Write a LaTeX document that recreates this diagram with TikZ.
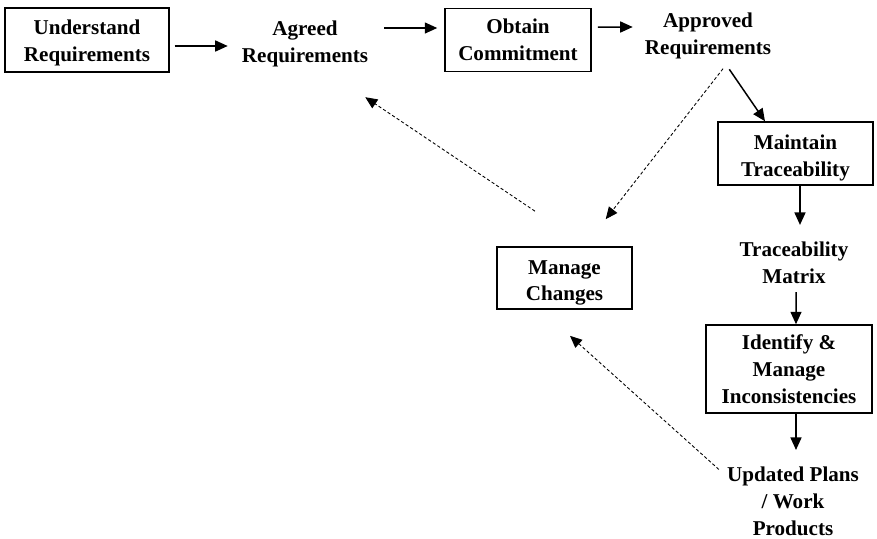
\documentclass[tikz,border=0pt]{standalone}
\usepackage{fontspec}
\setmainfont{Liberation Serif}
\usetikzlibrary{positioning, arrows.meta}
\tikzset{box/.style={draw=black,line width=0.85pt,align=center,inner sep=2pt,font=\bfseries\fontsize{12}{15.3}\selectfont}}
\tikzset{lbl/.style={align=center,font=\bfseries\fontsize{12}{15.3}\selectfont}}
\tikzset{flow/.style={-{Triangle[length=0.25cm,width=0.22cm]},line width=0.85pt}}
\tikzset{back/.style={-{Triangle[length=0.24cm,width=0.21cm]},line width=0.5pt,dash pattern=on 1.8pt off 1.3pt}}

\begin{document}
\begin{tikzpicture}
  \useasboundingbox (0,0) rectangle (17.54,-10.76);

  % top row
  \node[box,minimum width=3.28cm,minimum height=1.28cm,text height=0.95cm] (und) at (1.74,-0.80) {Understand\\Requirements};
  \node[lbl] (agr) at (6.10,-0.87) {Agreed\\Requirements};
  \node[box,minimum width=2.92cm,minimum height=1.26cm] (obt) at (10.36,-0.80) {Obtain\\Commitment};
  \node[lbl] (apr) at (14.16,-0.72) {Approved\\Requirements};

  % right column
  \node[box,minimum width=3.10cm,minimum height=1.26cm,text height=1.01cm] (mtr) at (15.91,-3.07) {Maintain\\Traceability};
  \node[lbl] (tmx) at (15.88,-5.26) {Traceability\\Matrix};
  \node[box,minimum width=3.32cm,minimum height=1.76cm] (idm) at (15.78,-7.38) {Identify \&\\Manage\\Inconsistencies};
  \node[lbl] (upd) at (15.86,-10.03) {Updated Plans\\/ Work\\Products};

  \node[box,minimum width=2.70cm,minimum height=1.24cm,text height=1.01cm] (mch) at (11.29,-5.56) {Manage\\Changes};

  % main flow
  \draw[flow,shorten <=0.1cm,shorten >=0.16cm] ([yshift=-0.12cm]und.east) -- ([yshift=-0.05cm]agr.west);
  \draw[flow,shorten <=0.2cm,shorten >=0.14cm] ([yshift=0.31cm]agr.east) -- ([yshift=0.24cm]obt.west);
  \draw[flow,shorten <=0.12cm,shorten >=0.12cm] ([yshift=0.26cm]obt.east) -- ([yshift=0.18cm]apr.west);
  \draw[flow,shorten <=0.1cm] ([xshift=0.37cm]apr.south) -- ([xshift=-0.61cm]mtr.north);
  \draw[flow,shorten >=0.22cm] ([xshift=0.09cm]mtr.south) -- ([xshift=0.12cm]tmx.north);
  \draw[flow,shorten <=0.04cm] ([xshift=0.04cm]tmx.south) -- ([xshift=0.14cm]idm.north);
  \draw[flow,shorten >=0.22cm] ([xshift=0.14cm]idm.south) -- ([xshift=0.06cm]upd.north);

  % change requests
  \draw[back] ([xshift=-0.59cm,yshift=0.70cm]mch.north) -- ([xshift=-0.18cm,yshift=-0.49cm]agr.south east);
  \draw[back] ([xshift=0.30cm,yshift=-0.07cm]apr.south) -- ([xshift=-0.54cm,yshift=0.54cm]mch.north east);
  \draw[back] ([xshift=-0.04cm,yshift=-0.17cm]upd.north west) -- ([xshift=0.11cm,yshift=-0.52cm]mch.south);
\end{tikzpicture}
\end{document}
